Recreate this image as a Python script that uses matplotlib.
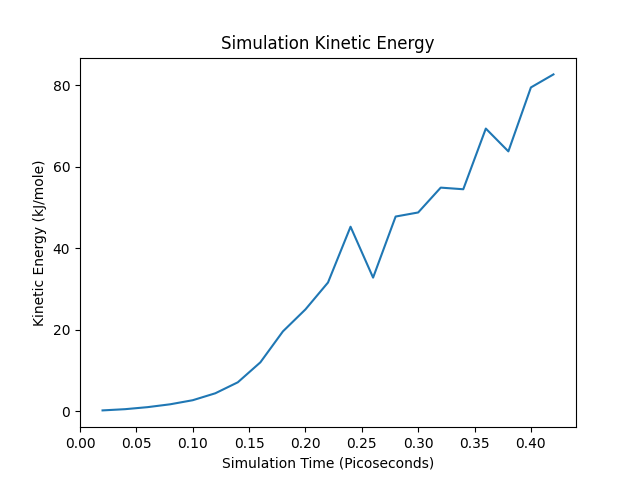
import matplotlib
matplotlib.use("Agg")
import matplotlib.pyplot as plt

# time in picoseconds
time_ps = [0.02, 0.04, 0.06, 0.08, 0.10, 0.12, 0.14, 0.16, 0.18, 0.20, 0.22,
           0.24, 0.26, 0.28, 0.30, 0.32, 0.34, 0.36, 0.38, 0.40, 0.42]
# kinetic energy in kJ/mole
kinetic = [0.2, 0.5, 1.0, 1.7, 2.7, 4.4, 7.1, 12.0, 19.6, 25.0, 31.6,
           45.3, 32.8, 47.8, 48.8, 54.9, 54.5, 69.4, 63.8, 79.5, 82.7]

fig = plt.figure(figsize=(6.4, 4.8), dpi=100)
plt.plot(time_ps, kinetic)
plt.title("Simulation Kinetic Energy")
plt.xlabel("Simulation Time (Picoseconds)")
plt.ylabel("Kinetic Energy (kJ/mole)")
plt.xlim(0.0, 0.44)
fig.savefig("out.png")
